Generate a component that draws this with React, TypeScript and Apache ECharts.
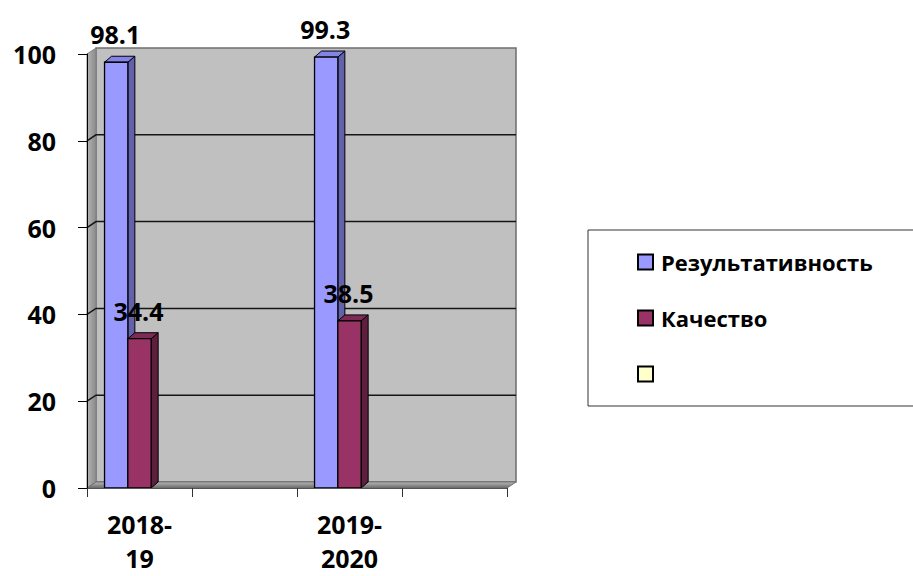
import React, { useEffect, useRef } from "react";
import * as echarts from "echarts";

const CATEGORIES = ["2018-19", "", "2019-2020", ""];
const RESULT = [98.1, null, 99.3, null];
const QUALITY = [34.4, null, 38.5, null];
const THIRD: (number | null)[] = [null, null, null, null];
const SERIES_NAMES = ["Результативность", "Качество", " "];
const Y_TICKS = [0, 20, 40, 60, 80, 100];

const FRONT = ["#9999FF", "#993366", "#FFFFCC"];
const SIDE = ["#6262AC", "#5E1F3F", "#CCCC99"];
const TOP = ["#8484E8", "#7D2A55", "#E6E6B8"];

const FONT = "'Open Sans', 'Noto Sans', sans-serif";
const WDX = 9, WDY = -6;
const BDX = 7, BDY = -6;

function toData(arr: (number | null)[]) {
  const out: number[][] = [];
  arr.forEach((v, i) => {
    if (v !== null && v !== undefined) out.push([i, v]);
  });
  return out;
}

function makeBarRender(k: number) {
  return (params: any, api: any) => {
    const cat = api.value(0);
    const val = api.value(1);
    const base = api.coord([cat, 0]);
    const top = api.coord([cat, val]);
    const band = api.size([1, 0])[0];
    const w = band * 0.222;
    const x0 = base[0] - 1.5 * w + k * w;
    const x1 = x0 + w;
    const yt = top[1];
    const yb = base[1];
    return {
      type: "group",
      children: [
        {
          type: "polygon",
          shape: { points: [[x1, yt], [x1 + BDX, yt + BDY], [x1 + BDX, yb + BDY], [x1, yb]] },
          style: { fill: SIDE[k], stroke: "#000", lineWidth: 1 },
        },
        {
          type: "polygon",
          shape: { points: [[x0, yt], [x0 + BDX, yt + BDY], [x1 + BDX, yt + BDY], [x1, yt]] },
          style: { fill: TOP[k], stroke: "#000", lineWidth: 1 },
        },
        {
          type: "rect",
          shape: { x: x0, y: yt, width: w, height: yb - yt },
          style: { fill: FRONT[k], stroke: "#000", lineWidth: 1.3 },
        },
        {
          type: "text",
          z2: 20,
          style: {
            text: String(val),
            x: (x0 + x1) / 2 - 1,
            y: yt - 28,
            align: "center",
            verticalAlign: "middle",
            fontSize: 25,
            fontWeight: "bold",
            fontFamily: FONT,
            fill: "#000",
          },
        },
      ],
    };
  };
}

function frameRender(params: any, api: any) {
  const cs = params.coordSys;
  const L = cs.x, T = cs.y, R = cs.x + cs.width, B = cs.y + cs.height;
  const children: any[] = [];
  children.push({
    type: "rect",
    shape: { x: L + WDX, y: T + WDY, width: cs.width, height: cs.height },
    style: { fill: "#C0C0C0", stroke: "#6E6E6E", lineWidth: 1.5 },
  });
  children.push({
    type: "polygon",
    shape: { points: [[L, T], [L + WDX, T + WDY], [L + WDX, B + WDY], [L, B]] },
    style: {
      fill: new echarts.graphic.LinearGradient(0, 0, 1, 0, [
        { offset: 0, color: "#B4B4B4" },
        { offset: 1, color: "#8A8A8A" },
      ]),
      stroke: "#808080",
      lineWidth: 1,
    },
  });
  children.push({
    type: "polygon",
    shape: { points: [[L, B], [L + WDX, B + WDY], [R + WDX, B + WDY], [R, B]] },
    style: {
      fill: new echarts.graphic.LinearGradient(0, 0, 0, 1, [
        { offset: 0, color: "#B8B8B8" },
        { offset: 1, color: "#6A6A6A" },
      ]),
      stroke: "#707070",
      lineWidth: 1,
    },
  });
  Y_TICKS.forEach((v) => {
    if (v <= Y_TICKS[0] || v >= Y_TICKS[Y_TICKS.length - 1]) return;
    const y = api.coord([0, v])[1];
    children.push({
      type: "polyline",
      shape: { points: [[L, y], [L + WDX, y + WDY], [R + WDX, y + WDY]] },
      style: { stroke: "#151515", lineWidth: 1.5, fill: null },
    });
  });
  return { type: "group", children };
}

export default function App() {
  const ref = useRef<HTMLDivElement>(null);
  useEffect(() => {
    if (!ref.current) return;
    const chart = echarts.init(ref.current, null, { renderer: "svg" });
    const seriesArrays = [RESULT, QUALITY, THIRD];
    const labelFont = { fontSize: 25, fontWeight: "bold", fontFamily: FONT, color: "#000" };
    chart.setOption({
      animation: false,
      backgroundColor: "#fff",
      grid: { left: 87, top: 54, width: 420, height: 434, containLabel: false, outerBoundsMode: "none" },
      legend: {
        orient: "vertical",
        left: 588,
        top: 230,
        padding: [18, 60, 18, 49],
        itemWidth: 15,
        itemHeight: 15,
        itemGap: 28,
        borderColor: "#333",
        borderWidth: 1,
        selectedMode: false,
        textStyle: { fontSize: 22, fontWeight: "bold", fontFamily: FONT, color: "#000", lineHeight: 28, padding: [0, 0, 0, 3] },
        data: SERIES_NAMES.map((n, i) => ({
          name: n,
          icon: "rect",
          itemStyle: { color: FRONT[i], borderColor: "#000", borderWidth: 2 },
        })),
      },
      xAxis: {
        type: "category",
        data: CATEGORIES,
        boundaryGap: true,
        z: 5,
        axisLine: { show: true, lineStyle: { color: "#555", width: 1 } },
        axisTick: { show: true, length: 9, lineStyle: { color: "#333" } },
        axisLabel: {
          interval: 0,
          margin: 14,
          ...labelFont,
          formatter: (v: string) => {
            if (!v) return "";
            const i = v.indexOf("-");
            if (i < 0) return "{b|" + v + "}";
            return "{a|" + v.slice(0, i + 1) + "}\n{b|" + v.slice(i + 1) + "}";
          },
          rich: {
            a: { ...labelFont, lineHeight: 43 },
            b: { ...labelFont, lineHeight: 26 },
          },
        },
        splitLine: { show: false },
      },
      yAxis: {
        type: "value",
        min: Y_TICKS[0],
        max: Y_TICKS[Y_TICKS.length - 1],
        interval: 20,
        z: 5,
        axisLine: { show: true, lineStyle: { color: "#000", width: 1 } },
        axisTick: { show: true, length: 9, lineStyle: { color: "#000" } },
        axisLabel: { margin: 31, ...labelFont },
        splitLine: { show: false },
      },
      series: [
        {
          type: "custom",
          name: "frame",
          z: 1,
          silent: true,
          clip: false,
          renderItem: frameRender,
          data: [[0, 0]],
        },
        ...SERIES_NAMES.map((n, k) => ({
          type: "custom",
          name: n,
          z: 3,
          clip: false,
          itemStyle: { color: FRONT[k] },
          renderItem: makeBarRender(k),
          data: toData(seriesArrays[k]),
        })),
      ],
    });
    return () => chart.dispose();
  }, []);
  return (
    <div
      ref={ref}
      style={{ position: "fixed", left: 0, top: 0, width: 913, height: 576, background: "#fff" }}
    />
  );
}
